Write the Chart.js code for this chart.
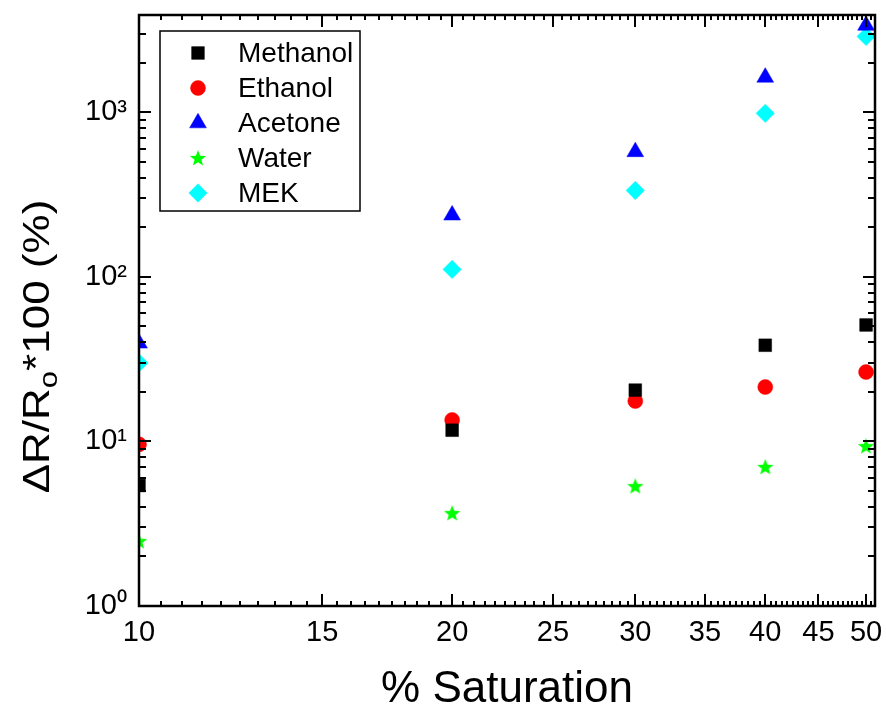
<!DOCTYPE html>
<html lang="en">
<head>
  <meta charset="UTF-8" />
  <title>Resistance change vs. saturation</title>
  <script src="https://cdn.jsdelivr.net/npm/chart.js"></script>
  <style>
    html, body { margin: 0; padding: 0; background: #fff; }
    canvas { display: block; }
  </style>
</head>
<body>
  <canvas id="chart" width="886" height="713"></canvas>

  <script>
    // values (log-log axes)
    const saturation = [10, 20, 30, 40, 50];
    const methanol = [5.4, 11.7, 20.5, 38.4, 51];
    const ethanol = [9.6, 13.5, 17.6, 21.4, 26.4];
    const acetone = [39.5, 237, 575, 1630, 3370];
    const water = [2.48, 3.67, 5.35, 7.0, 9.36];
    const mek = [30, 111, 335, 985, 2890];

    const seriesNames = ['Methanol', 'Ethanol', 'Acetone', 'Water', 'MEK'];
    const xMajorTicks = [10, 15, 20, 25, 30, 35, 40, 45, 50];
    const yMajorTicks = [1, 10, 100, 1000];
    const yTickLabels = ['10\u2070', '10\u00b9', '10\u00b2', '10\u00b3'];

    const FONT = "'Liberation Sans', Arial, sans-serif";
    Chart.defaults.font.family = FONT;
    Chart.defaults.color = '#000';

    // filled five point star for the water series
    function makeStar(color) {
      const c = document.createElement('canvas');
      c.width = 18; c.height = 18;
      const g = c.getContext('2d');
      g.beginPath();
      for (let i = 0; i < 10; i++) {
        const r = i % 2 === 0 ? 8.6 : 3.6;
        const a = -Math.PI / 2 + i * Math.PI / 5;
        g.lineTo(9 + r * Math.cos(a), 9.6 + r * Math.sin(a));
      }
      g.closePath();
      g.fillStyle = color;
      g.fill();
      return c;
    }

    const pts = vals => saturation.map((x, i) => ({ x: x, y: vals[i] }));

    const datasets = [
      { label: seriesNames[0], data: pts(methanol), pointStyle: 'rect', pointRadius: 9, backgroundColor: '#000000', borderColor: '#000000' },
      { label: seriesNames[1], data: pts(ethanol), pointStyle: 'circle', pointRadius: 7.5, backgroundColor: '#ff0000', borderColor: '#ff0000' },
      { label: seriesNames[2], data: pts(acetone), pointStyle: 'triangle', pointRadius: 9.7, backgroundColor: '#0000ff', borderColor: '#0000ff' },
      { label: seriesNames[3], data: pts(water), pointStyle: makeStar('#00ff00'), pointRadius: 9, backgroundColor: '#00ff00', borderColor: '#00ff00' },
      { label: seriesNames[4], data: pts(mek), pointStyle: 'rectRot', pointRadius: 9.2, backgroundColor: '#00ffff', borderColor: '#00ffff' }
    ].map(d => Object.assign(d, { showLine: false, pointBorderWidth: 0.5, pointHoverRadius: d.pointRadius, clip: 0 }));

    // inward ticks on all four sides plus the frame
    const frameTicks = {
      id: 'frameTicks',
      afterDatasetsDraw(chart) {
        const { ctx, chartArea: a, scales: { x, y } } = chart;
        ctx.save();
        ctx.strokeStyle = '#000';
        ctx.lineWidth = 2;
        ctx.beginPath();
        x.ticks.forEach(t => {
          const px = Math.round(x.getPixelForValue(t.value));
          const len = t.major ? 12 : 5;
          ctx.moveTo(px, a.bottom); ctx.lineTo(px, a.bottom - len);
          ctx.moveTo(px, a.top); ctx.lineTo(px, a.top + len);
        });
        y.ticks.forEach(t => {
          const py = Math.round(y.getPixelForValue(t.value));
          const len = t.major ? 12 : 7;
          ctx.moveTo(a.left, py); ctx.lineTo(a.left + len, py);
          ctx.moveTo(a.right, py); ctx.lineTo(a.right - len, py);
        });
        ctx.stroke();
        ctx.lineWidth = 2.5;
        ctx.strokeRect(a.left, a.top, a.right - a.left, a.bottom - a.top);
        ctx.restore();
      }
    };

    // y title with a real subscript
    const yTitle = {
      id: 'yTitle',
      afterDraw(chart) {
        const { ctx, chartArea: a } = chart;
        const big = '44px ' + FONT, small = '31px ' + FONT;
        const parts = [['\u0394R/R', big, 0], ['o', small, 9], ['*100 (%)', big, 0]];
        ctx.save();
        ctx.translate(35, (a.top + a.bottom) / 2 + 36);
        ctx.rotate(-Math.PI / 2);
        ctx.scale(1, 0.86);
        ctx.fillStyle = '#000';
        ctx.textBaseline = 'alphabetic';
        let total = 0;
        parts.forEach(p => { ctx.font = p[1]; total += ctx.measureText(p[0]).width; });
        let cx = -total / 2;
        parts.forEach(p => {
          ctx.font = p[1];
          ctx.fillText(p[0], cx, 16 + p[2]);
          cx += ctx.measureText(p[0]).width;
        });
        ctx.restore();
      }
    };

    // boxed legend inside the plot, top left
    const boxLegend = {
      id: 'boxLegend',
      afterDraw(chart) {
        const { ctx, chartArea: a } = chart;
        const left = a.left + 21, top = a.top + 16, w = 200, h = 180, step = 35;
        ctx.save();
        ctx.strokeStyle = '#000';
        ctx.lineWidth = 1.5;
        ctx.strokeRect(left, top, w, h);
        ctx.font = '28px ' + FONT;
        ctx.textBaseline = 'middle';
        chart.data.datasets.forEach((ds, i) => {
          const cy = top + 22 + i * step;
          ctx.fillStyle = ds.backgroundColor;
          ctx.strokeStyle = ds.borderColor;
          ctx.lineWidth = 0.5;
          Chart.helpers.drawPoint(ctx, { pointStyle: ds.pointStyle, radius: ds.pointRadius, rotation: 0, borderWidth: 0.5 }, left + 38, cy);
          ctx.fillStyle = '#000';
          ctx.fillText(ds.label, left + 78, cy + 1);
        });
        ctx.restore();
      }
    };

    new Chart(document.getElementById('chart'), {
      type: 'scatter',
      data: { datasets: datasets },
      plugins: [frameTicks, yTitle, boxLegend],
      options: {
        responsive: false,
        animation: false,
        devicePixelRatio: 1,
        layout: { padding: { left: 0, top: 15, right: 11, bottom: 0 } },
        plugins: { legend: { display: false }, tooltip: { enabled: false } },
        scales: {
          x: {
            type: 'logarithmic',
            min: 10,
            max: 51,
            grid: { display: false, drawTicks: false },
            border: { display: false },
            afterBuildTicks: s => {
              const t = [];
              for (let v = 10; v <= 51; v += 0.5) t.push({ value: v, major: xMajorTicks.includes(v) });
              s.ticks = t;
            },
            afterFit: s => {
              s.height = 107;
              s.paddingLeft = 0; s.paddingRight = 0;
            },
            ticks: {
              autoSkip: false,
              maxRotation: 0,
              minRotation: 0,
              padding: 10,
              font: { size: 29 },
              callback: v => (xMajorTicks.includes(v) ? String(v) : '')
            },
            title: {
              display: true,
              text: '% Saturation',
              font: { size: 44, lineHeight: 1 },
              padding: { top: 0, bottom: 1 }
            }
          },
          y: {
            type: 'logarithmic',
            min: 1,
            max: 3900,
            grid: { display: false, drawTicks: false },
            border: { display: false },
            afterBuildTicks: s => {
              const t = [];
              yMajorTicks.forEach(p => {
                for (let d = 1; d <= 9; d++) {
                  const v = d * p;
                  if (v <= 3900) t.push({ value: v, major: d === 1 });
                }
              });
              s.ticks = t;
            },
            afterFit: s => {
              s.width = 139;
              s.paddingTop = 0; s.paddingBottom = 0;
            },
            ticks: {
              autoSkip: false,
              padding: 12,
              font: { size: 29 },
              callback: v => {
                const k = yMajorTicks.indexOf(v);
                return k >= 0 ? yTickLabels[k] : '';
              }
            }
          }
        }
      }
    });
  </script>
</body>
</html>
